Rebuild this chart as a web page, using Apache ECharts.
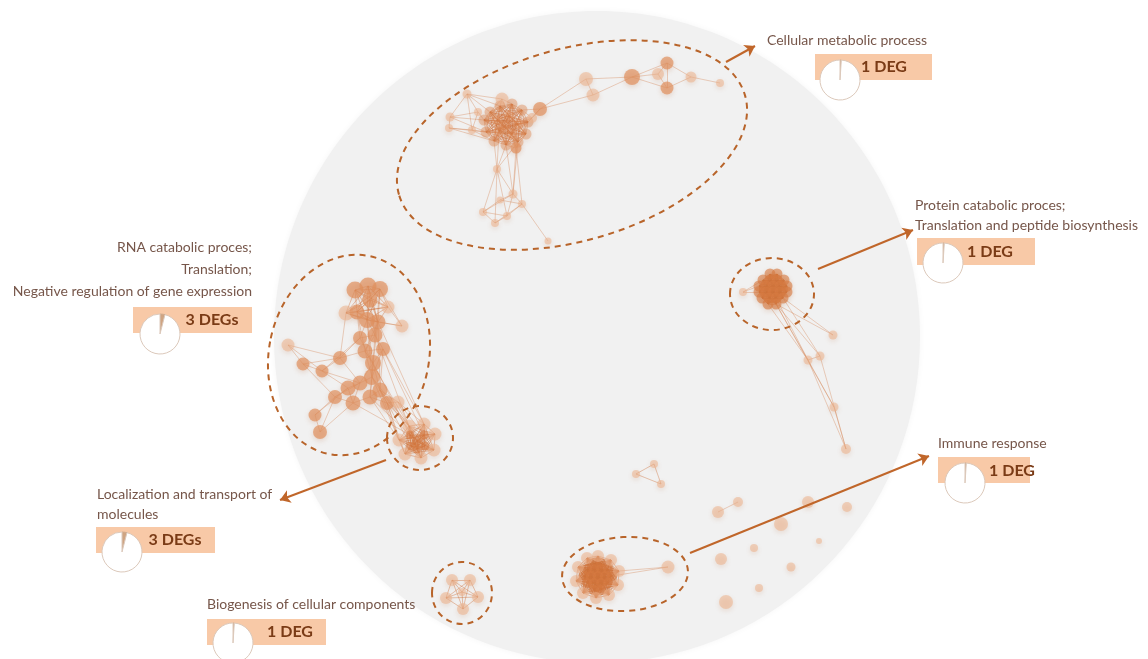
<!DOCTYPE html>
<html>
<head>
<meta charset="utf-8">
<title>GO term clusters of the interaction network</title>
<script src="https://cdn.jsdelivr.net/npm/echarts@6/dist/echarts.min.js"></script>
<style>
  html, body { margin: 0; padding: 0; background: #ffffff; }
  #chart { width: 1148px; height: 659px; }
</style>
</head>
<body>
<div id="chart"></div>
<script>
// ---------- network nodes: [id, x, y, size, tone] ----------
// tone 0 = pale, 1 = soft, 2 = deep, 3 = mesh node
const metabolicNodes = [
  ['a0', 490, 112, 11, 3], ['a1', 500, 106, 11, 3], ['a2', 512, 104, 11, 3], ['a3', 522, 110, 11, 3],
  ['a4', 528, 122, 11, 3], ['a5', 526, 134, 11, 3], ['a6', 518, 142, 11, 3], ['a7', 506, 145, 11, 3],
  ['a8', 494, 141, 11, 3], ['a9', 486, 132, 11, 3], ['a10', 484, 120, 11, 3], ['a11', 502, 99, 13, 0],
  ['a12', 532, 118, 10, 0], ['a13', 497, 120, 11, 3], ['a37', 509, 116, 11, 3], ['a38', 518, 124, 11, 3],
  ['a39', 512, 134, 11, 3], ['a40', 499, 131, 11, 3], ['a41', 505, 126, 11, 3],
  ['a14', 467, 94, 9, 0], ['a15', 450, 117, 9, 0], ['a16', 449, 128, 8, 0], ['a17', 472, 130, 8, 0], ['a18', 478, 112, 8, 0],
  ['a19', 540, 109, 14, 1], ['a20', 586, 79, 14, 0], ['a21', 593, 95, 13, 0], ['a22', 632, 77, 16, 1],
  ['a23', 658, 74, 12, 0], ['a24', 667, 63, 13, 1], ['a25', 667, 88, 13, 1], ['a26', 691, 77, 11, 0], ['a27', 720, 83, 8, 0],
  ['a28', 516, 148, 11, 1], ['a29', 497, 169, 8, 0], ['a30', 513, 194, 9, 0], ['a31', 522, 204, 8, 0],
  ['a32', 483, 212, 8, 0], ['a33', 495, 223, 8, 0], ['a34', 507, 216, 8, 0], ['a35', 500, 200, 7, 0], ['a36', 548, 241, 7, 0]
];
const rnaNodes = [
  ['b0', 355, 290, 17, 1], ['b1', 368, 286, 17, 1], ['b2', 380, 289, 16, 1], ['b3', 346, 313, 15, 0],
  ['b4', 357, 312, 15, 1], ['b5', 388, 307, 13, 0], ['b6', 402, 326, 13, 0], ['b7', 367, 320, 16, 1],
  ['b8', 378, 322, 15, 1], ['b9', 370, 300, 15, 1], ['b10', 288, 345, 13, 0], ['b11', 303, 364, 13, 1],
  ['b12', 322, 371, 13, 1], ['b13', 340, 358, 14, 1], ['b14', 365, 351, 15, 1], ['b15', 383, 349, 14, 1],
  ['b16', 373, 363, 16, 1], ['b17', 372, 377, 16, 1], ['b18', 360, 383, 15, 1], ['b19', 348, 388, 15, 1],
  ['b20', 335, 397, 14, 1], ['b21', 353, 403, 15, 1], ['b22', 370, 397, 15, 1], ['b23', 380, 390, 15, 1],
  ['b24', 387, 403, 14, 1], ['b25', 398, 402, 13, 0], ['b26', 315, 415, 13, 1], ['b27', 320, 432, 14, 1],
  ['b28', 375, 335, 15, 1], ['b29', 360, 338, 14, 1]
];
const transportNodes = [
  ['c0', 409, 426, 13, 0], ['c1', 424, 424, 13, 0], ['c2', 435, 434, 13, 0], ['c3', 434, 450, 13, 0],
  ['c4', 421, 458, 13, 0], ['c5', 405, 454, 13, 0], ['c6', 399, 440, 13, 0], ['c7', 417, 441, 10, 2],
  ['c8', 425, 446, 9, 2], ['c9', 411, 446, 9, 2], ['c10', 424, 435, 9, 2], ['c11', 410, 435, 9, 2],
  ['c12', 417, 449, 9, 2]
];
const proteinNodes = [
  ['d0', 770, 274, 11, 2], ['d1', 777, 274, 11, 2],
  ['d2', 763, 280, 11, 2], ['d3', 770, 280, 11, 2], ['d4', 777, 280, 11, 2], ['d5', 784, 280, 11, 2],
  ['d6', 759, 286, 11, 2], ['d7', 766, 286, 11, 2], ['d8', 773, 286, 11, 2], ['d9', 780, 286, 11, 2], ['d10', 787, 286, 11, 2],
  ['d17', 759, 292, 11, 2], ['d18', 766, 292, 11, 2], ['d19', 773, 292, 11, 2], ['d20', 780, 292, 11, 2], ['d21', 787, 292, 11, 2],
  ['d22', 762, 298, 11, 2], ['d23', 769, 298, 11, 2], ['d24', 776, 298, 11, 2], ['d25', 783, 298, 11, 2],
  ['d26', 768, 304, 11, 2], ['d27', 776, 304, 11, 2],
  ['d11', 743, 292, 8, 0],
  ['d12', 833, 335, 9, 0], ['d13', 808, 360, 9, 0], ['d14', 820, 356, 9, 0], ['d15', 834, 407, 9, 0], ['d16', 846, 449, 10, 0]
];
const immuneNodes = [
  ['e0', 594, 563, 10, 2], ['e1', 601, 563, 10, 2],
  ['e2', 587, 569, 10, 2], ['e3', 594, 569, 10, 2], ['e4', 601, 569, 10, 2], ['e5', 608, 569, 10, 2],
  ['e6', 584, 576, 10, 2], ['e7', 591, 576, 10, 2], ['e8', 598, 576, 10, 2], ['e9', 605, 576, 10, 2], ['e10', 612, 576, 10, 2],
  ['e11', 587, 583, 10, 2], ['e12', 594, 583, 10, 2], ['e13', 601, 583, 10, 2], ['e15', 608, 583, 10, 2],
  ['e16', 594, 590, 10, 2], ['e17', 601, 590, 10, 2],
  ['e18', 598, 556, 12, 0], ['e19', 611, 560, 12, 0], ['e20', 619, 571, 12, 0], ['e21', 618, 585, 12, 0],
  ['e22', 609, 595, 12, 0], ['e23', 596, 598, 12, 0], ['e24', 583, 593, 12, 0], ['e25', 576, 581, 12, 0],
  ['e26', 578, 567, 12, 0], ['e27', 587, 558, 12, 0],
  ['e14', 668, 567, 13, 0]
];
const biogenesisNodes = [
  ['f0', 452, 580, 12, 0], ['f1', 470, 580, 12, 0], ['f2', 478, 597, 12, 0],
  ['f3', 463, 609, 12, 0], ['f4', 446, 598, 12, 0], ['f5', 462, 592, 8, 0]
];
const looseNodes = [
  ['g0', 636, 474, 8, 0], ['g1', 654, 464, 8, 0], ['g2', 661, 484, 8, 0],
  ['g3', 718, 512, 12, 0], ['g4', 738, 502, 10, 0], ['g5', 808, 502, 12, 0], ['g6', 847, 507, 10, 0],
  ['g7', 781, 524, 14, 0], ['g8', 754, 548, 8, 0], ['g9', 721, 559, 12, 0], ['g10', 819, 541, 6, 0],
  ['g11', 791, 567, 9, 0], ['g12', 759, 588, 8, 0], ['g13', 726, 602, 14, 0]
];

// ---------- network edges ----------
// dense cores: every member linked to every other member
const denseCores = [
  ['a0', 'a1', 'a2', 'a3', 'a4', 'a5', 'a6', 'a7', 'a8', 'a9', 'a10', 'a13', 'a37', 'a38', 'a39', 'a40', 'a41'],
  ['b0', 'b1', 'b2', 'b3', 'b4', 'b5', 'b7', 'b8', 'b9'],
  ['c0', 'c1', 'c2', 'c3', 'c4', 'c5', 'c6', 'c7', 'c8', 'c9', 'c10', 'c11', 'c12'],
  ['d0', 'd1', 'd2', 'd3', 'd4', 'd5', 'd6', 'd7', 'd8', 'd9', 'd10', 'd17', 'd18', 'd19', 'd20', 'd21',
   'd22', 'd23', 'd24', 'd25', 'd26', 'd27'],
  ['e0', 'e1', 'e2', 'e3', 'e4', 'e5', 'e6', 'e7', 'e8', 'e9', 'e10', 'e11', 'e12', 'e13', 'e15', 'e16', 'e17',
   'e18', 'e19', 'e20', 'e21', 'e22', 'e23', 'e24', 'e25', 'e26', 'e27'],
  ['f0', 'f1', 'f2', 'f3', 'f4', 'f5'],
  ['g0', 'g1', 'g2']
];
const edges = [
  ['a14', 'a15'], ['a14', 'a18'], ['a15', 'a16'], ['a16', 'a17'], ['a17', 'a18'], ['a14', 'a0'], ['a14', 'a1'],
  ['a15', 'a10'], ['a16', 'a9'], ['a17', 'a9'], ['a18', 'a10'], ['a15', 'a18'], ['a14', 'a17'], ['a16', 'a8'],
  ['a14', 'a11'], ['a15', 'a9'], ['a17', 'a8'], ['a11', 'a1'], ['a11', 'a2'], ['a11', 'a0'], ['a11', 'a37'],
  ['a12', 'a19'], ['a4', 'a19'], ['a3', 'a19'], ['a12', 'a4'], ['a12', 'a3'], ['a12', 'a38'],
  ['a19', 'a20'], ['a19', 'a21'], ['a20', 'a21'], ['a20', 'a22'],
  ['a21', 'a22'], ['a22', 'a23'], ['a22', 'a24'], ['a22', 'a25'], ['a23', 'a24'], ['a23', 'a25'], ['a24', 'a25'],
  ['a24', 'a26'], ['a25', 'a26'], ['a26', 'a27'],
  ['a28', 'a6'], ['a28', 'a5'], ['a28', 'a7'], ['a28', 'a39'], ['a29', 'a7'], ['a29', 'a8'], ['a29', 'a6'], ['a29', 'a40'],
  ['a7', 'a30'], ['a6', 'a30'], ['a29', 'a32'], ['a29', 'a33'], ['a29', 'a34'], ['a29', 'a30'], ['a28', 'a31'],
  ['a28', 'a30'], ['a30', 'a31'], ['a30', 'a32'], ['a30', 'a34'], ['a30', 'a35'], ['a31', 'a34'], ['a32', 'a33'],
  ['a32', 'a34'], ['a32', 'a35'], ['a33', 'a34'], ['a35', 'a31'], ['a31', 'a36'], ['a33', 'a31'],
  ['b6', 'b8'], ['b5', 'b6'], ['b6', 'b7'], ['b6', 'b2'],
  ['b10', 'b11'], ['b10', 'b13'], ['b10', 'b12'], ['b11', 'b12'], ['b11', 'b13'], ['b12', 'b13'], ['b13', 'b14'],
  ['b13', 'b29'], ['b12', 'b29'], ['b13', 'b3'], ['b14', 'b28'], ['b14', 'b15'], ['b15', 'b28'], ['b28', 'b7'],
  ['b28', 'b8'], ['b29', 'b28'], ['b29', 'b4'], ['b29', 'b7'], ['b14', 'b16'], ['b15', 'b16'], ['b16', 'b17'],
  ['b16', 'b18'], ['b17', 'b18'], ['b18', 'b19'], ['b19', 'b20'], ['b20', 'b21'], ['b21', 'b22'], ['b22', 'b23'],
  ['b23', 'b24'], ['b24', 'b25'], ['b17', 'b22'], ['b17', 'b23'], ['b19', 'b21'], ['b18', 'b21'], ['b20', 'b26'],
  ['b20', 'b27'], ['b19', 'b26'], ['b26', 'b27'], ['b21', 'b27'], ['b18', 'b20'], ['b16', 'b23'], ['b15', 'b23'],
  ['b25', 'b23'], ['b22', 'b24'], ['b14', 'b17'], ['b8', 'b14'], ['b7', 'b16'], ['b9', 'b7'], ['b29', 'b16'],
  ['b12', 'b19'], ['b12', 'b18'], ['b11', 'b20'], ['b13', 'b18'], ['b16', 'b22'], ['b15', 'b17'], ['b28', 'b16'],
  ['b7', 'b17'], ['b8', 'b16'], ['b8', 'b23'], ['b4', 'b14'], ['b9', 'b28'], ['b2', 'b28'], ['b1', 'b8'],
  ['b23', 'c0'], ['b23', 'c6'], ['b24', 'c0'], ['b24', 'c6'], ['b25', 'c0'], ['b25', 'c1'], ['b22', 'c6'],
  ['b22', 'c11'], ['b21', 'c11'], ['b17', 'c0'], ['b16', 'c11'], ['b15', 'c1'], ['b14', 'c0'], ['b8', 'c1'],
  ['b24', 'c5'], ['b25', 'c10'], ['b23', 'c7'], ['b17', 'c6'], ['b28', 'c0'], ['b15', 'c10'], ['b23', 'c9'],
  ['d11', 'd6'], ['d11', 'd2'], ['d11', 'd17'], ['d27', 'd12'], ['d25', 'd12'], ['d27', 'd13'], ['d26', 'd13'],
  ['d25', 'd14'], ['d27', 'd14'], ['d13', 'd14'], ['d13', 'd16'], ['d14', 'd16'], ['d13', 'd15'], ['d27', 'd15'],
  ['d15', 'd16'], ['d24', 'd13'],
  ['e20', 'e14'], ['e10', 'e14'],
  ['g3', 'g4']
];

// ---------- term annotations ----------
const termTitles = [
  ['Cellular metabolic process'],
  ['Protein catabolic proces;', 'Translation and peptide biosynthesis'],
  ['Immune response'],
  ['RNA catabolic proces;', 'Translation;', 'Negative regulation of gene expression'],
  ['Localization and transport of', 'molecules'],
  ['Biogenesis of cellular components']
];
const degCounts = [1, 1, 1, 3, 3, 1];
const termGeneTotals = [95, 95, 95, 75, 75, 95];
const degLabels = ['1 DEG', '1 DEG', '1 DEG', '3 DEGs', '3 DEGs', '1 DEG'];

// ---------- drawing layout (pixels) ----------
const layout = {
  backdrop: { cx: 597, cy: 337, rx: 323, ry: 326 },
  rings: [
    { cx: 572, cy: 145, rx: 180, ry: 96, rot: 16 },
    { cx: 772, cy: 294, rx: 42, ry: 36, rot: 0 },
    { cx: 625, cy: 574, rx: 63, ry: 37, rot: 3 },
    { cx: 349, cy: 355, rx: 80, ry: 101, rot: -12 },
    { cx: 420, cy: 438, rx: 33, ry: 32, rot: 0 },
    { cx: 462, cy: 593, rx: 30, ry: 31, rot: 0 }
  ],
  arrows: [
    [[726, 62], [755, 46]],
    [[818, 269], [913, 230]],
    [[690, 553], [929, 456]],
    [[386, 460], [280, 500]]
  ],
  titles: [
    { x: 767, y: 40, align: 'left', gap: 20 },
    { x: 915, y: 205, align: 'left', gap: 20 },
    { x: 938, y: 443, align: 'left', gap: 20 },
    { x: 252, y: 247, align: 'right', gap: 22 },
    { x: 97, y: 494, align: 'left', gap: 20 },
    { x: 207, y: 604, align: 'left', gap: 20 }
  ],
  boxes: [
    [815, 54, 117, 26], [917, 238, 118, 27], [938, 457, 92, 26],
    [133, 307, 119, 26], [96, 527, 119, 26], [207, 619, 119, 26]
  ],
  pies: [[840, 80], [943, 263], [965, 483], [160, 334], [122, 552], [233, 643]],
  degText: [[884, 67], [990, 252], [1012, 471], [212, 320], [175, 540], [290, 632]]
};

// ---------- build the graph ----------
const allNodes = [].concat(metabolicNodes, rnaNodes, transportNodes, proteinNodes,
  immuneNodes, biogenesisNodes, looseNodes);
const nodeIndex = {};
allNodes.forEach((n, i) => { nodeIndex[n[0]] = i; });

const toneStyle = [
  { color: 'rgba(236,178,140,0.55)' },
  { color: 'rgba(224,144,94,0.7)' },
  { color: 'rgba(214,122,66,0.62)' },
  { color: 'rgba(222,140,88,0.45)' }
];

const graphData = allNodes.map(n => ({
  name: n[0],
  value: [n[1], n[2]],
  symbolSize: n[3],
  itemStyle: toneStyle[n[4]]
}));

const coreLine = { color: 'rgba(205,110,55,0.5)', width: 0.8 };
const graphLinks = [];
denseCores.forEach(members => {
  for (let i = 0; i < members.length; i++) {
    for (let j = i + 1; j < members.length; j++) {
      graphLinks.push({ source: nodeIndex[members[i]], target: nodeIndex[members[j]], lineStyle: coreLine });
    }
  }
});
edges.forEach(e => graphLinks.push({ source: nodeIndex[e[0]], target: nodeIndex[e[1]] }));

// ---------- annotation graphics ----------
const ARROW = '#c0662a';
const RING = '#b8642a';
const TEXT = '#76564a';

const graphics = [];
graphics.push({
  type: 'ellipse', z: -10, silent: true,
  shape: layout.backdrop,
  style: { fill: '#f1f1f1', shadowBlur: 6, shadowColor: 'rgba(0,0,0,0.04)' }
});
layout.rings.forEach(r => {
  graphics.push({
    type: 'ellipse', z: 20, silent: true,
    x: r.cx, y: r.cy,
    rotation: r.rot * Math.PI / 180,
    shape: { cx: 0, cy: 0, rx: r.rx, ry: r.ry },
    style: { fill: 'none', stroke: RING, lineWidth: 2, lineDash: [6, 5] }
  });
});
termTitles.forEach((lines, i) => {
  const t = layout.titles[i];
  lines.forEach((line, k) => {
    graphics.push({
      type: 'text', z: 30, silent: true,
      x: t.x, y: t.y + k * t.gap,
      style: {
        text: line, fill: TEXT, font: '14px Lato',
        textAlign: t.align, textVerticalAlign: 'middle'
      }
    });
  });
  const b = layout.boxes[i];
  graphics.push({
    type: 'rect', z: 1, silent: true,
    shape: { x: b[0], y: b[1], width: b[2], height: b[3] },
    style: { fill: '#f8c9a7' }
  });
  const d = layout.degText[i];
  graphics.push({
    type: 'text', z: 30, silent: true,
    x: d[0], y: d[1],
    style: {
      text: degLabels[i], fill: '#7a3b16', font: 'bold 16px Lato',
      textAlign: 'center', textVerticalAlign: 'middle'
    }
  });
});

// ---------- series ----------
const series = [];
series.push({
  type: 'graph',
  coordinateSystem: 'cartesian2d',
  layout: 'none',
  silent: true,
  z: 3,
  data: graphData,
  links: graphLinks,
  symbol: 'circle',
  itemStyle: {
    shadowBlur: 5,
    shadowOffsetY: 2,
    shadowColor: 'rgba(190,110,60,0.3)'
  },
  lineStyle: { color: 'rgba(210,125,75,0.45)', width: 0.8, opacity: 1 },
  label: { show: false },
  emphasis: { disabled: true }
});

series.push({
  type: 'lines',
  coordinateSystem: 'cartesian2d',
  silent: true,
  z: 4,
  symbol: ['none', 'arrow'],
  symbolSize: 10,
  lineStyle: { color: ARROW, width: 2, opacity: 1 },
  data: layout.arrows.map(a => ({ coords: a }))
});

degCounts.forEach((deg, i) => {
  series.push({
    type: 'pie',
    silent: true,
    z: 5,
    center: layout.pies[i],
    radius: [0, 20],
    startAngle: 90,
    clockwise: true,
    label: { show: false },
    labelLine: { show: false },
    emphasis: { disabled: true },
    data: [
      { name: 'DEG', value: deg, itemStyle: { color: '#cfa482', borderColor: '#c9a68a', borderWidth: 0.8 } },
      { name: 'other', value: termGeneTotals[i] - deg, itemStyle: { color: '#ffffff', borderColor: '#dcc9bb', borderWidth: 1 } }
    ]
  });
});

const chart = echarts.init(document.getElementById('chart'), null, { renderer: 'canvas' });
chart.setOption({
  animation: false,
  backgroundColor: '#ffffff',
  grid: { left: 0, right: 0, top: 0, bottom: 0 },
  xAxis: { type: 'value', min: 0, max: 1148, show: false },
  yAxis: { type: 'value', min: 0, max: 659, inverse: true, show: false },
  graphic: graphics,
  series: series
});
</script>
</body>
</html>
